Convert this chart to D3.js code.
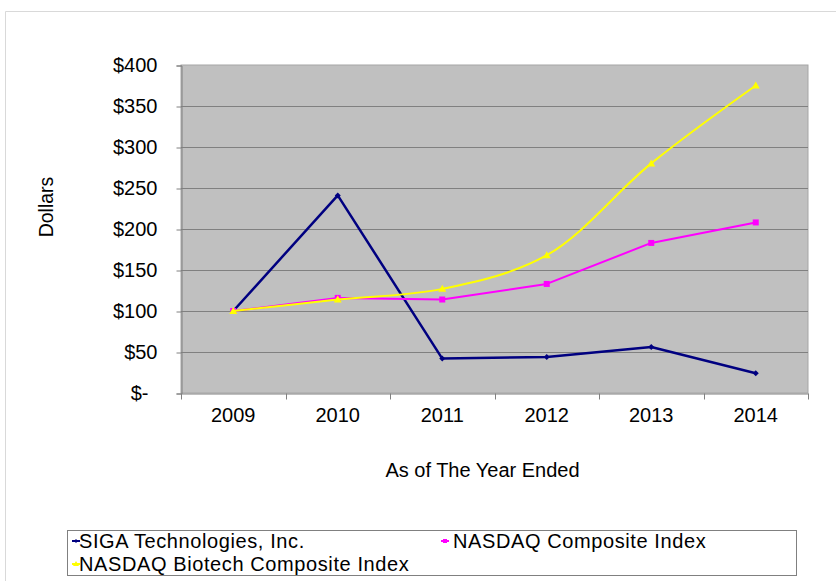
<!DOCTYPE html>
<html>
<head>
<meta charset="utf-8">
<script src="https://cdn.jsdelivr.net/npm/d3@7"></script>
<style>
  body { margin: 0; background: #fff; }
  svg text { font-family: "Liberation Sans", Arial, sans-serif; fill: #000; }
</style>
</head>
<body>
<script>
// data
const years = ['2009', '2010', '2011', '2012', '2013', '2014']
const siga = [100, 241, 42, 44, 56, 24]
const nasdaq = [100, 116, 114, 133, 183, 208]
const biotech = [100, 114, 127, 168, 280, 375]
const yTicks = [0, 50, 100, 150, 200, 250, 300, 350, 400]

const series = [
  { name: 'SIGA Technologies, Inc.', values: siga, color: '#000080', marker: 'diamond', width: 2.5, smooth: false },
  { name: 'NASDAQ Composite Index', values: nasdaq, color: '#ff00ff', marker: 'square', width: 2, smooth: false },
  { name: 'NASDAQ Biotech Composite Index', values: biotech, color: '#ffff00', marker: 'triangle', width: 2, smooth: true }
]

const W = 836, H = 581
const plot = { left: 181, right: 808, top: 65, bottom: 393 }

let svg = d3.select('body').append('svg')
  .attr('width', W)
  .attr('height', H)

// outer chart frame
svg.append('path')
  .attr('d', 'M5.5,' + H + 'V11.5H' + W)
  .attr('fill', 'none')
  .attr('stroke', '#d9d9d9')

// scales
let x = d3.scaleBand()
  .domain(years)
  .range([plot.left, plot.right])
let y = d3.scaleLinear()
  .domain([0, 400])
  .range([plot.bottom, plot.top])

// plot area
svg.append('rect')
  .attr('x', plot.left)
  .attr('y', plot.top)
  .attr('width', plot.right - plot.left)
  .attr('height', plot.bottom - plot.top)
  .attr('fill', '#c0c0c0')
  .attr('stroke', '#a6a6a6')

// gridlines
svg.append('g')
  .selectAll('line')
  .data(yTicks.filter((d) => d > 0 && d < 400))
  .join('line')
    .attr('x1', plot.left)
    .attr('x2', plot.right)
    .attr('y1', (d) => Math.round(y(d)) + 0.5)
    .attr('y2', (d) => Math.round(y(d)) + 0.5)
    .attr('stroke', '#808080')

// y axis
let yAxis = svg.append('g')
  .attr('transform', 'translate(' + (plot.left + 0.5) + ',0.5)')
  .call(d3.axisLeft(y)
    .tickValues(yTicks)
    .tickSize(5)
    .tickPadding(19)
    .tickFormat((d) => d === 0 ? '$-' : '$' + d))
yAxis.select('.domain').attr('stroke', '#808080')
yAxis.selectAll('.tick line').attr('stroke', '#808080')
yAxis.selectAll('.tick text')
  .attr('font-size', 20)
  .attr('font-family', '"Liberation Sans", Arial, sans-serif')
  .attr('dx', (d) => d === 0 ? -9 : 0)

// x axis
let xAxis = svg.append('g')
  .attr('transform', 'translate(0,' + (plot.bottom + 0.5) + ')')
  .call(d3.axisBottom(x).tickSize(0).tickPadding(14))
xAxis.select('.domain').attr('stroke', '#808080')
xAxis.selectAll('.tick text')
  .attr('font-size', 20)
  .attr('font-family', '"Liberation Sans", Arial, sans-serif')
// boundary ticks between categories
xAxis.append('g')
  .selectAll('line')
  .data(years.map((d) => x(d)).concat([plot.right]))
  .join('line')
    .attr('x1', (d) => Math.round(d) + 0.5)
    .attr('x2', (d) => Math.round(d) + 0.5)
    .attr('y1', 0)
    .attr('y2', 6)
    .attr('stroke', '#808080')

// axis titles
svg.append('text')
  .attr('transform', 'translate(53,207) rotate(-90)')
  .attr('text-anchor', 'middle')
  .attr('font-size', 19.5)
  .text('Dollars')
svg.append('text')
  .attr('x', (plot.left + plot.right) / 2 - 12)
  .attr('y', 477)
  .attr('text-anchor', 'middle')
  .attr('font-size', 20)
  .text('As of The Year Ended')

// lines
const cx = (i) => x(years[i]) + x.bandwidth() / 2

function markerPath(type, s) {
  if (type === 'diamond') return 'M0,' + (-s) + 'L' + s + ',0L0,' + s + 'L' + (-s) + ',0Z'
  if (type === 'square') return 'M' + (-s) + ',' + (-s) + 'h' + (2 * s) + 'v' + (2 * s) + 'h' + (-2 * s) + 'Z'
  return 'M0,' + (-s - 1) + 'L' + (s + 1) + ',' + s + 'L' + (-s - 1) + ',' + s + 'Z'
}

let lines = svg.append('g')
series.forEach((s) => {
  let line = d3.line()
    .x((d, i) => cx(i))
    .y((d) => y(d))
    .curve(s.smooth ? d3.curveCatmullRom.alpha(0.5) : d3.curveLinear)
  let g = lines.append('g')
  g.append('path')
    .attr('d', line(s.values))
    .attr('fill', 'none')
    .attr('stroke', s.color)
    .attr('stroke-width', s.width)
    .attr('stroke-linejoin', 'round')
  g.selectAll('path.marker')
    .data(s.values)
    .join('path')
      .attr('class', 'marker')
      .attr('transform', (d, i) => 'translate(' + cx(i) + ',' + y(d) + ')')
      .attr('d', markerPath(s.marker, 3))
      .attr('fill', s.color)
})

// legend
let legend = svg.append('g')
legend.append('rect')
  .attr('x', 67.5)
  .attr('y', 530.5)
  .attr('width', 729)
  .attr('height', 45)
  .attr('fill', '#fff')
  .attr('stroke', '#808080')

const legendPos = [[72, 548], [441, 548], [72, 571]]
series.forEach((s, i) => {
  let g = legend.append('g')
    .attr('transform', 'translate(' + legendPos[i] + ')')
  g.append('line')
    .attr('x1', 0).attr('x2', 8)
    .attr('y1', -7).attr('y2', -7)
    .attr('stroke', s.color)
    .attr('stroke-width', 2)
  g.append('path')
    .attr('transform', 'translate(4,-7)')
    .attr('d', markerPath(s.marker, 2))
    .attr('fill', s.color)
  g.append('text')
    .attr('x', i === 1 ? 12 : 7)
    .attr('font-size', 20)
    .attr('letter-spacing', 0.6)
    .text(s.name)
})
</script>
</body>
</html>
